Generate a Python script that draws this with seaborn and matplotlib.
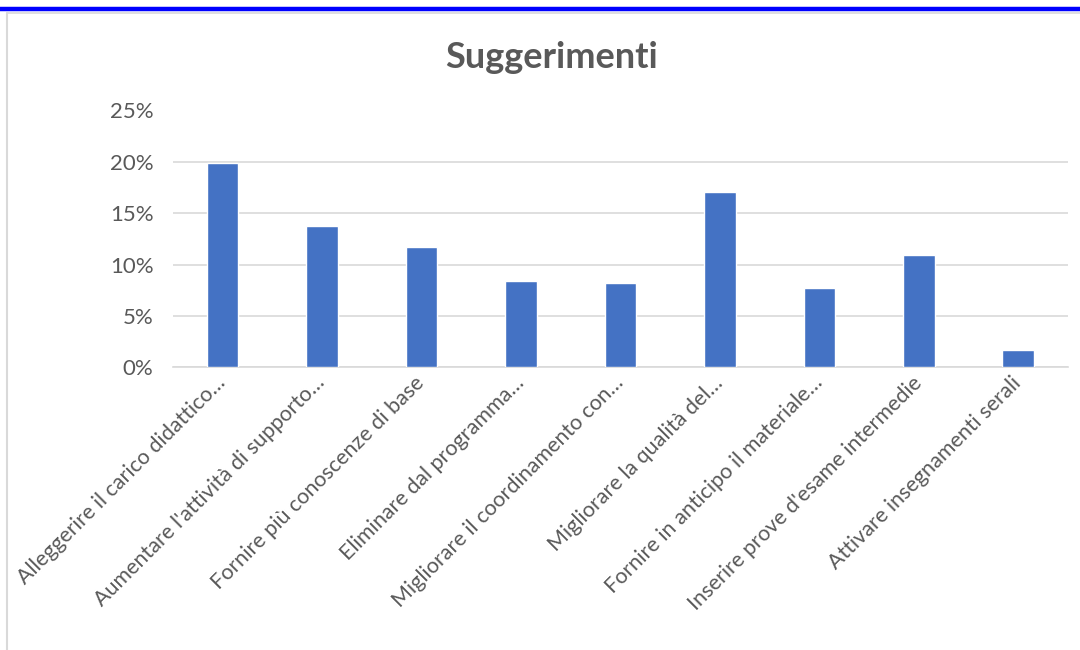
import matplotlib
matplotlib.use("Agg")
import matplotlib.pyplot as plt
from matplotlib.lines import Line2D
from matplotlib.ticker import PercentFormatter, MultipleLocator
import pandas as pd
import seaborn as sns

# dati
categorie = [
    "Alleggerire il carico didattico…",
    "Aumentare l'attività di supporto…",
    "Fornire più conoscenze di base",
    "Eliminare dal programma…",
    "Migliorare il coordinamento con…",
    "Migliorare la qualità del…",
    "Fornire in anticipo il materiale…",
    "Inserire prove d'esame intermedie",
    "Attivare insegnamenti serali",
]
percentuali = [0.199, 0.138, 0.117, 0.084, 0.082, 0.171, 0.077, 0.109, 0.017]

df = pd.DataFrame({"suggerimento": categorie, "quota": percentuali})

sns.set_style("white")
plt.rcParams["font.family"] = ["Lato", "DejaVu Sans"]

TESTO = "#595959"
GRIGIO = "#d9d9d9"

fig = plt.figure(figsize=(10.8, 6.5), dpi=100)
ax = fig.add_axes([0.160, 0.435, 0.829, 0.395])

sns.barplot(data=df, x="suggerimento", y="quota", color="#4472C4",
            width=0.32, saturation=1, ax=ax, zorder=3)

ax.set_ylim(0, 0.25)
ax.yaxis.set_major_locator(MultipleLocator(0.05))
ax.yaxis.set_major_formatter(PercentFormatter(1.0, decimals=0))
ax.grid(axis="y", color=GRIGIO, linewidth=1.2, zorder=0)
ax.set_axisbelow(True)
ax.set_xlabel("")
ax.set_ylabel("")
for s in ["top", "right", "left"]:
    ax.spines[s].set_visible(False)
ax.spines["bottom"].set_color(GRIGIO)
ax.spines["bottom"].set_linewidth(1.2)
ax.tick_params(axis="y", length=0, colors=TESTO, labelsize=16, pad=14)
ax.tick_params(axis="x", length=0, colors=TESTO, labelsize=15.5, pad=9)
plt.setp(ax.get_xticklabels(), rotation=45, ha="right", va="center",
         rotation_mode="anchor")

fig.text(0.511, 0.912, "Suggerimenti", ha="center", va="center",
         fontsize=26, fontweight="bold", color=TESTO)

# bordi della cornice
fig.add_artist(Line2D([0, 1], [0.9855, 0.9855], transform=fig.transFigure,
                      color="#0000ff", linewidth=3.2))
fig.add_artist(Line2D([0.0065, 1], [0.9805, 0.9805], transform=fig.transFigure,
                      color=GRIGIO, linewidth=1.2))
fig.add_artist(Line2D([0.0065, 0.0065], [0, 0.9805], transform=fig.transFigure,
                      color=GRIGIO, linewidth=1.5))

fig.savefig("out.png", dpi=100)
